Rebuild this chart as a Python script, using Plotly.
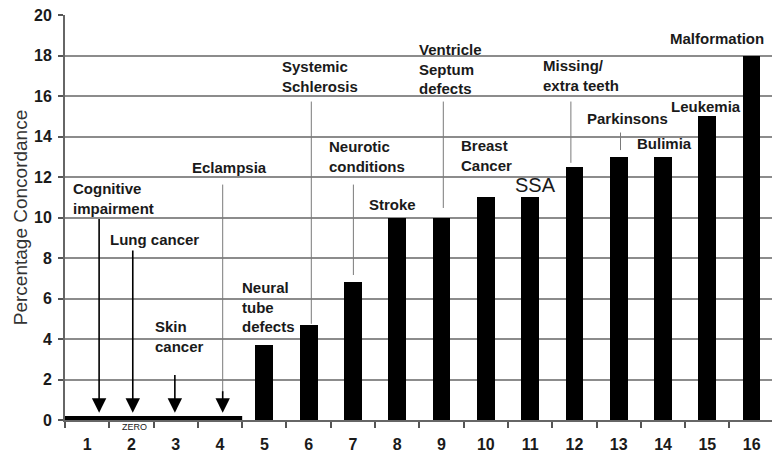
import plotly.graph_objects as go

# Daten
categories = list(range(1, 17))
concordance = [0, 0, 0, 0, 3.7, 4.7, 6.8, 10, 10, 11, 11, 12.5, 13, 13, 15, 18]
y_ticks = list(range(0, 21, 2))

# Beschriftungen: (Text, x, y) - linksbündig, vertikal zentriert
labels = [
    ("Cognitive<br>impairment", 0.64, 10.96),
    ("Lung cancer", 1.47, 8.89),
    ("Skin<br>cancer", 2.49, 4.11),
    ("Eclampsia", 3.32, 12.49),
    ("Neural<br>tube<br>defects", 4.45, 5.58),
    ("Systemic<br>Schlerosis", 5.35, 16.96),
    ("Neurotic<br>conditions", 6.41, 13.01),
    ("Stroke", 7.31, 10.62),
    ("Ventricle<br>Septum<br>defects", 8.44, 17.33),
    ("Breast<br>Cancer", 9.39, 13.04),
    ("Missing/<br>extra teeth", 11.24, 17.01),
    ("Parkinsons", 12.24, 14.91),
    ("Bulimia", 13.37, 13.63),
    ("Leukemia", 14.14, 15.46),
    ("Malformation", 14.11, 18.86),
]

# Pfeile auf die Null-Kategorien: (x, y_start)
arrows = [(1.27, 10.0), (2.03, 8.45), (2.98, 2.3), (4.06, 1.5)]
arrow_tip = 0.36

# Verbindungslinien (x, y_oben, y_unten)
leaders = [
    (4.06, 11.7, 1.3),
    (6.06, 15.8, 4.75),
    (7.01, 11.7, 7.16),
    (9.04, 15.8, 10.47),
    (11.92, 15.8, 12.7),
    (13.04, 14.27, 13.33),
]

zero_cats = [c for c, v in zip(categories, concordance) if v == 0]

FONT = "Liberation Sans, Arial, sans-serif"
TXT = "#1a1a1a"
GRID = "#8c8c8c"

fig = go.Figure()

fig.add_trace(go.Bar(
    x=categories,
    y=concordance,
    width=0.4,
    marker=dict(color="black", line=dict(width=0)),
    showlegend=False,
))

# Dicke Linie für Kategorien mit Wert 0
fig.add_trace(go.Scatter(
    x=[min(zero_cats) - 0.5, max(zero_cats) + 0.5],
    y=[0, 0],
    mode="lines",
    line=dict(color="black", width=8),
    showlegend=False,
    hoverinfo="skip",
))

annotations = []
for text, x, y in labels:
    annotations.append(dict(
        x=x, y=y, xref="x", yref="y", text="<b>" + text.replace("<br>", "</b><br><b>") + "</b>",
        showarrow=False, xanchor="left", yanchor="middle", align="left",
        font=dict(family=FONT, size=15, color=TXT),
    ))

annotations.append(dict(
    x=10.61, y=11.6, xref="x", yref="y", text="SSA", showarrow=False,
    xanchor="left", yanchor="middle",
    font=dict(family=FONT, size=20, color=TXT),
))
# "ZERO" unterhalb der Achse (paper-Koordinaten, sonst ausgeblendet)
annotations.append(dict(
    x=2.07, y=-0.017, xref="x", yref="paper", text="ZERO", showarrow=False,
    xanchor="center", yanchor="middle",
    font=dict(family=FONT, size=9, color=TXT),
))

for x, y0, y1 in leaders:
    annotations.append(dict(
        x=x, y=y1, ax=x, ay=y0, xref="x", yref="y", axref="x", ayref="y",
        text="", showarrow=True, arrowhead=0, arrowwidth=1, arrowcolor="#7a7a7a",
    ))

for x, y0 in arrows:
    annotations.append(dict(
        x=x, y=arrow_tip, ax=x, ay=y0, xref="x", yref="y", axref="x", ayref="y",
        text="", showarrow=True, arrowhead=2, arrowsize=1.8, arrowwidth=1.6,
        arrowcolor="black",
    ))

fig.update_layout(
    width=772,
    height=454,
    margin=dict(l=65, r=0, t=15, b=34),
    plot_bgcolor="white",
    paper_bgcolor="white",
    bargap=0,
    font=dict(family=FONT, color=TXT),
    annotations=annotations,
    xaxis=dict(
        range=[0.5, 16.46],
        tickvals=categories,
        ticktext=["<b>%d</b>" % c for c in categories],
        ticks="",
        ticklabelstandoff=9,
        showgrid=False,
        zeroline=False,
        showline=True,
        linecolor="#666666",
        linewidth=2,
        automargin=False,
        tickfont=dict(family=FONT, size=16, color=TXT),
        minor=dict(tick0=0.5, dtick=1, ticks="outside", ticklen=6,
                   tickwidth=1.5, tickcolor="#555555", showgrid=False),
    ),
    yaxis=dict(
        range=[0, 20],
        tickvals=y_ticks,
        ticktext=["<b>%d</b>" % t for t in y_ticks],
        ticks="outside",
        ticklen=5,
        tickwidth=1.5,
        tickcolor="#555555",
        ticklabelstandoff=3,
        showgrid=True,
        gridcolor=GRID,
        gridwidth=1.5,
        zeroline=False,
        showline=True,
        linecolor="#666666",
        linewidth=2,
        automargin=False,
        tickfont=dict(family=FONT, size=16, color=TXT),
        title=dict(text="Percentage Concordance",
                   font=dict(family=FONT, size=19, color="#333333"),
                   standoff=1),
    ),
)

fig.write_html("out.html", config={"displayModeBar": False},
               post_script="document.body.style.margin='0';")
